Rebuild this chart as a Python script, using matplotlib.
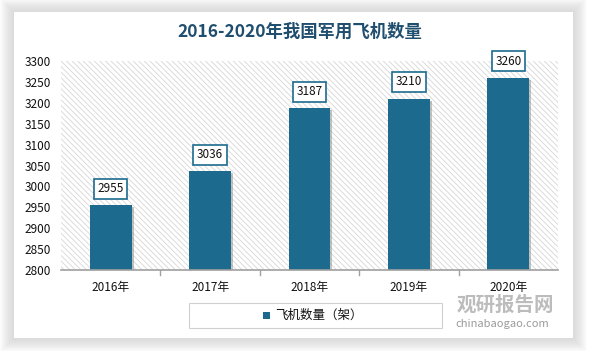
import matplotlib.pyplot as plt
from matplotlib.patches import Rectangle
from matplotlib import patheffects

plt.rcParams['font.family'] = ['Noto Sans CJK SC', 'DejaVu Sans']
plt.rcParams['hatch.linewidth'] = 0.6
plt.rcParams['hatch.color'] = '#d6d6d6'

# --- Data ---
years = ['2016年', '2017年', '2018年', '2019年', '2020年']
planes = [2955, 3036, 3187, 3210, 3260]
series_name = '飞机数量（架）'
title = '2016-2020年我国军用飞机数量'

bar_color = '#1c6b8e'
W, H = 589, 351

fig = plt.figure(figsize=(W / 100, H / 100), dpi=100)
fig.patch.set_facecolor('white')

# --- panel with soft shadow ---
px0, py0, px1, py1 = 14, 12, 573, 338
for k in range(14, 0, -1):
    fig.patches.append(Rectangle(((px0 - k) / W, 1 - (py1 + k) / H),
                                 (px1 - px0 + 2 * k) / W, (py1 - py0 + 2 * k) / H,
                                 transform=fig.transFigure, facecolor='#bbbbbb',
                                 edgecolor='none', alpha=0.045, zorder=-2))
fig.patches.append(Rectangle((px0 / W, 1 - py1 / H), (px1 - px0) / W, (py1 - py0) / H,
                             transform=fig.transFigure, facecolor='white',
                             edgecolor='none', zorder=-1))

# --- axes ---
ax = fig.add_axes([61 / W, 1 - 270 / H, (558 - 61) / W, (270 - 61) / H])
ax.set_zorder(2)
ax.set_facecolor('none')
ax.add_patch(Rectangle((0, 0), 1, 1, transform=ax.transAxes, facecolor='white',
                       hatch='\\\\\\\\\\\\', edgecolor='#d6d6d6', linewidth=0, zorder=0))

x = range(len(years))
bars = ax.bar(x, planes, width=0.42, color=bar_color, zorder=2,
              path_effects=[patheffects.SimplePatchShadow(offset=(1.5, -1.5), shadow_rgbFace='#888888', alpha=0.5),
                            patheffects.Normal()])

for xi, v in zip(x, planes):
    ax.annotate(str(v), (xi, v), xytext=(0, 12), textcoords='offset points',
                ha='center', va='center', fontsize=8.5, color='#111111',
                bbox=dict(boxstyle='square,pad=0.3', facecolor='white',
                          edgecolor=bar_color, linewidth=1.2), zorder=3)

ax.set_xlim(-0.5, 4.5)
ax.set_ylim(2800, 3300)
ax.set_yticks(range(2800, 3301, 50))
ax.set_xticks(list(x))
ax.set_xticklabels(years)
ax.tick_params(axis='y', length=0, labelsize=8.5, pad=7, labelcolor='#111111')
ax.tick_params(axis='x', length=0, labelsize=8.5, pad=8, labelcolor='#111111')
for s in ['top', 'right', 'left']:
    ax.spines[s].set_visible(False)
ax.spines['bottom'].set_color('#a0a0a0')
ax.spines['bottom'].set_linewidth(1.2)
# category boundary ticks
for b in [0.5, 1.5, 2.5, 3.5]:
    ax.plot([b, b], [0, -0.025], transform=ax.get_xaxis_transform(), color='#a0a0a0',
            linewidth=1, clip_on=False)

# --- title ---
fig.text(300 / W, 1 - 32 / H, title, ha='center', va='center', fontsize=12.5,
         fontweight='bold', color='#1f4e6e')

# --- legend box ---
fig.patches.append(Rectangle((189 / W, 1 - 328 / H), (442 - 189) / W, 25 / H,
                             transform=fig.transFigure, facecolor='white',
                             edgecolor='#d0d0d0', linewidth=0.8, zorder=1))
fig.patches.append(Rectangle((263 / W, 1 - 319 / H), 7 / W, 7 / H,
                             transform=fig.transFigure, facecolor=bar_color,
                             edgecolor='none', zorder=2))
fig.text(275 / W, 1 - 315.5 / H, series_name, ha='left', va='center', fontsize=9,
         color='#111111')

# --- watermark ---
fig.text(505 / W, 1 - 305 / H, '观研报告网', ha='center', va='center', fontsize=14,
         fontweight='bold', color='#b5b5b5', alpha=0.9)
fig.text(502 / W, 1 - 324 / H, 'chinabaogao.com', ha='center', va='center', fontsize=8,
         color='#9a9a9a')

fig.savefig('out.png', dpi=100)
